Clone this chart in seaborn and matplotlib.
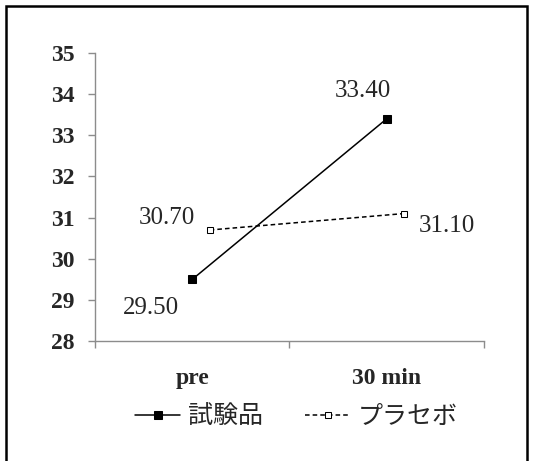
import numpy as np
import pandas as pd
import matplotlib.pyplot as plt
import seaborn as sns
from matplotlib.patches import Rectangle

# -----------------------------
# DATA
# -----------------------------
categories = ["pre", "30 min"]
series_names = ["試験品", "プラセボ"]
test_values = [29.5, 33.4]
placebo_values = [30.7, 31.1]
yticks = [28, 29, 30, 31, 32, 33, 34, 35]

# small horizontal shift so the two series do not overlap (as in the original)
offsets = [0.0, 0.09]

rows = []
for name, vals, off in zip(series_names, [test_values, placebo_values], offsets):
    for i, v in enumerate(vals):
        rows.append({"series": name, "x": i + off, "value": v})
df = pd.DataFrame(rows)

# -----------------------------
# STYLE
# -----------------------------
sns.set_style("white")
plt.rcParams['font.family'] = ['Liberation Serif', 'Noto Sans CJK JP']

fig = plt.figure(figsize=(5.34, 4.61), dpi=100)
ax = fig.add_axes([0.178, 0.260, 0.728, 0.625])

# outer frame
fig.patches.append(Rectangle((6 / 534, -0.05), 521 / 534, 1 - 6 / 461 + 0.05,
                             transform=fig.transFigure, fill=False,
                             edgecolor='black', linewidth=1.8))

# -----------------------------
# LINES
# -----------------------------
styles = {
    "試験品": dict(linestyle='-', marker='s', mfc='black', mec='black', ms=5.5),
    "プラセボ": dict(linestyle=(0, (3, 2)), marker='s', mfc='white', mec='black', ms=4.5),
}
for name in series_names:
    sub = df[df["series"] == name]
    sns.lineplot(data=sub, x="x", y="value", ax=ax, color='black', lw=1.1,
                 label=name, **styles[name])

# value labels (offset from category position)
label_pos = {
    ("試験品", 0): (-0.21, -0.70),
    ("試験品", 1): (-0.12, 0.68),
    ("プラセボ", 0): (-0.13, 0.30),
    ("プラセボ", 1): (0.31, -0.30),
}
for _, r in df.iterrows():
    i = int(round(r["x"]))
    dx, dy = label_pos[(r["series"], i)]
    ax.text(i + dx, r["value"] + dy, f"{r['value']:.2f}", ha='center', va='center',
            fontsize=18, family='Liberation Serif')

# -----------------------------
# AXES
# -----------------------------
ax.set_xlim(-0.5, 1.5)
ax.set_ylim(28, 35)
ax.set_yticks(yticks)
ax.set_yticklabels([str(t) for t in yticks], fontsize=17, fontweight='bold')
ax.set_xticks([-0.5, 0.5, 1.5])
ax.set_xticklabels([])
ax.set_xticks([0, 1], minor=True)
ax.set_xticklabels(categories, minor=True, fontsize=17, fontweight='bold')
ax.tick_params(axis='x', which='major', bottom=True, direction='out', length=5,
               color='#8c8c8c', width=1)
ax.tick_params(axis='x', which='minor', bottom=True, length=0, pad=19)
ax.tick_params(axis='y', left=True, direction='out', length=5, color='#8c8c8c',
               width=1, pad=10)
ax.set_xlabel("")
ax.set_ylabel("")

for side in ['top', 'right']:
    ax.spines[side].set_visible(False)
for side in ['left', 'bottom']:
    ax.spines[side].set_color('#8c8c8c')
    ax.spines[side].set_linewidth(1)

ax.legend(loc='center', bbox_to_anchor=(0.518, -0.262), ncol=2, frameon=False,
          prop={'family': ['Noto Sans CJK JP'], 'size': 18},
          handlelength=1.8, columnspacing=1.7, handletextpad=0.3)

fig.savefig("out.png", dpi=100)
